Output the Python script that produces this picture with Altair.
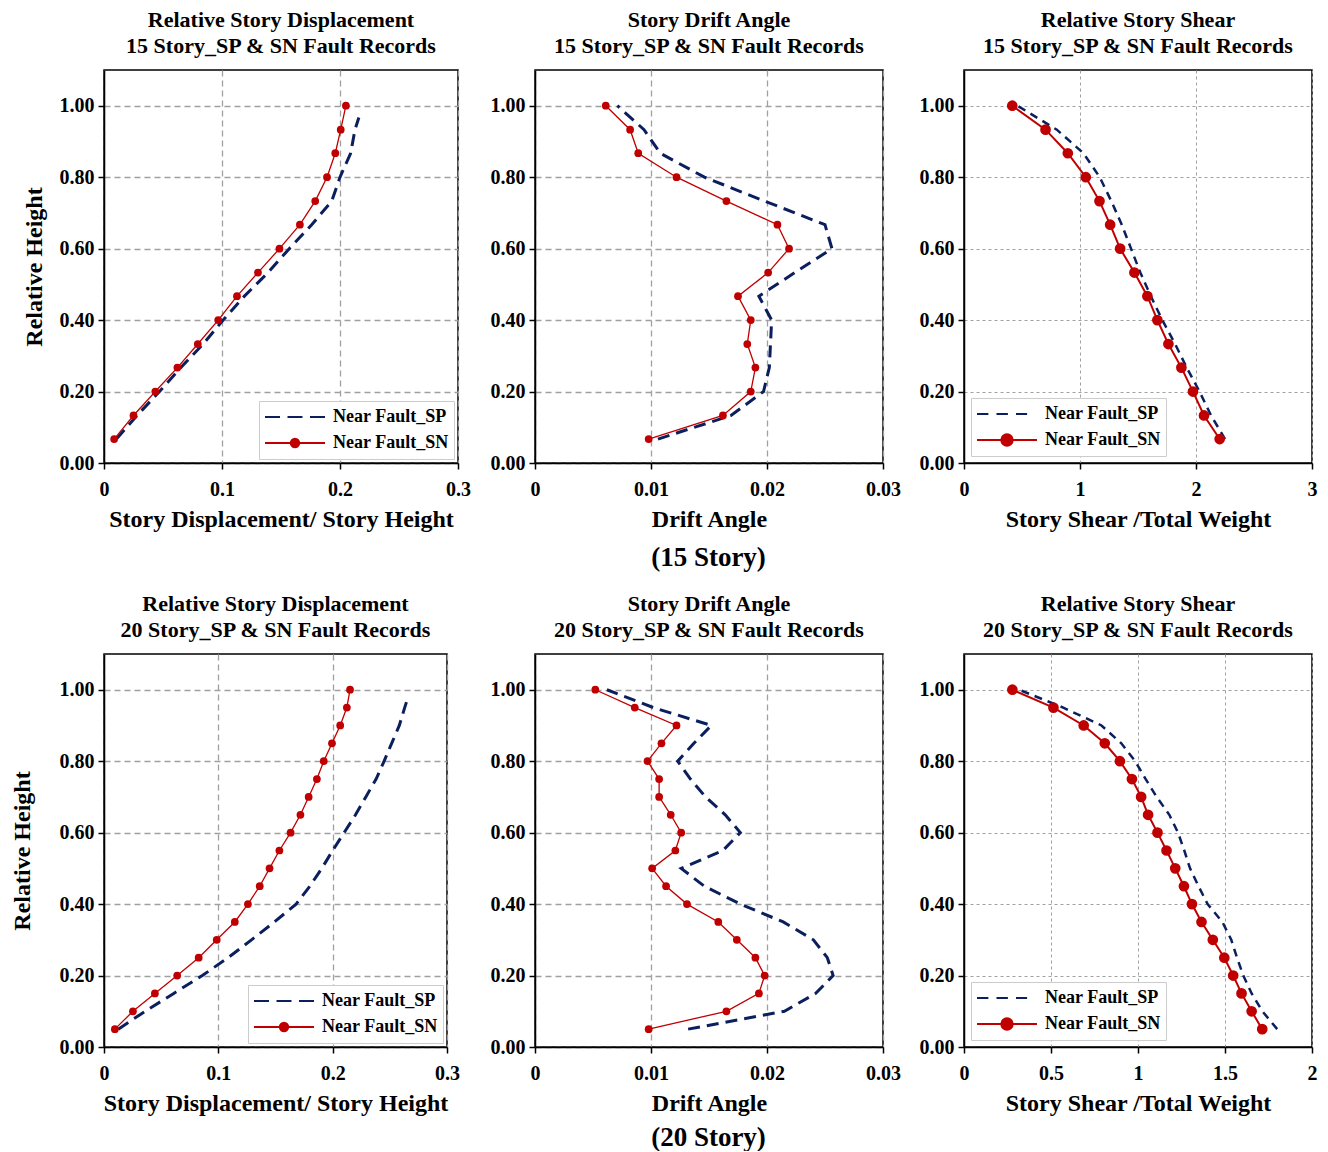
import altair as alt
import pandas as pd

FONT = "Liberation Serif"
NAVY = "#0b1f5e"
RED = "#c00000"
SP = "Near Fault_SP"
SN = "Near Fault_SN"

# ---------------- data ----------------
h15 = [0.067, 0.133, 0.2, 0.267, 0.333, 0.4, 0.467, 0.533, 0.6, 0.667, 0.733, 0.8, 0.867, 0.933, 1.0]
h15_sp_disp = [0.067, 0.133, 0.2, 0.267, 0.333, 0.4, 0.467, 0.533, 0.6, 0.667, 0.733, 0.8, 0.867, 0.933, 0.967]
h20 = [0.05, 0.1, 0.15, 0.2, 0.25, 0.3, 0.35, 0.4, 0.45, 0.5, 0.55, 0.6, 0.65, 0.7, 0.75, 0.8, 0.85, 0.9, 0.95, 1.0]
h20_sp_disp = [0.05, 0.1, 0.15, 0.2, 0.25, 0.3, 0.35, 0.4, 0.45, 0.5, 0.55, 0.6, 0.65, 0.7, 0.75, 0.8, 0.85, 0.9, 0.95, 0.97]

disp15_sn = [0.0086, 0.025, 0.0435, 0.0622, 0.0795, 0.0968, 0.1127, 0.1305, 0.1487, 0.166, 0.179, 0.189, 0.196, 0.2006, 0.205]
disp15_sp = [0.0105, 0.028, 0.047, 0.065, 0.084, 0.101, 0.119, 0.139, 0.157, 0.176, 0.193, 0.200, 0.209, 0.2127, 0.216]
drift15_sn = [0.0098, 0.0162, 0.0186, 0.0190, 0.0183, 0.0186, 0.0175, 0.0201, 0.0219, 0.0209, 0.0165, 0.0122, 0.0089, 0.0082, 0.0061]
drift15_sp = [0.0106, 0.0169, 0.0197, 0.0202, 0.0203, 0.0204, 0.0193, 0.0224, 0.0256, 0.0250, 0.0198, 0.0146, 0.0108, 0.0094, 0.0071]
shear15_sn = [2.204, 2.069, 1.974, 1.874, 1.762, 1.667, 1.581, 1.469, 1.346, 1.26, 1.168, 1.05, 0.895, 0.703, 0.416]
shear15_sp = [2.25, 2.13, 2.03, 1.92, 1.82, 1.71, 1.61, 1.52, 1.44, 1.36, 1.27, 1.17, 1.03, 0.80, 0.46]

disp20_sn = [0.0095, 0.0253, 0.0445, 0.064, 0.0828, 0.0986, 0.1144, 0.1259, 0.1362, 0.1448,
             0.1534, 0.1632, 0.1718, 0.179, 0.1862, 0.1922, 0.1994, 0.2066, 0.2124, 0.2152]
disp20_sp = [0.0125, 0.036, 0.061, 0.086, 0.1085, 0.129, 0.149, 0.168, 0.180, 0.1905,
             0.200, 0.210, 0.220, 0.229, 0.238, 0.245, 0.2516, 0.2583, 0.263, 0.265]
drift20_sn = [0.0098, 0.0165, 0.0193, 0.0198, 0.0190, 0.0174, 0.0158, 0.0131, 0.0113, 0.0101,
              0.0121, 0.0126, 0.0117, 0.0107, 0.0107, 0.0097, 0.0109, 0.0122, 0.0086, 0.0052]
drift20_sp = [0.0132, 0.0215, 0.0242, 0.0257, 0.0252, 0.0240, 0.0214, 0.0177, 0.0146, 0.0126,
              0.0162, 0.0177, 0.0164, 0.0147, 0.0134, 0.0123, 0.0137, 0.0152, 0.0102, 0.0062]
shear20_sn = [1.714, 1.653, 1.595, 1.547, 1.496, 1.43, 1.365, 1.31, 1.264, 1.214,
              1.164, 1.112, 1.058, 1.018, 0.965, 0.896, 0.809, 0.688, 0.514, 0.278]
shear20_sp = [1.80, 1.715, 1.653, 1.605, 1.569, 1.536, 1.485, 1.40, 1.348, 1.299,
              1.266, 1.23, 1.18, 1.107, 1.044, 0.984, 0.904, 0.79, 0.57, 0.316]

y_ticks = [0.0, 0.2, 0.4, 0.6, 0.8, 1.0]
x_ticks_disp = [0, 0.1, 0.2, 0.3]
x_ticks_drift = [0, 0.01, 0.02, 0.03]
x_ticks_shear15 = [0, 1, 2, 3]
x_ticks_shear20 = [0, 0.5, 1, 1.5, 2]

H = 393

STYLE_A = dict(sp_w=3.0, sp_dash=[12, 7], sn_w=1.3, pt=60, grid_dash=[6, 4], grid_w=1.3,
               leg_sp="M-1,0H-0.5M-0.25,0H0.25M0.5,0H1",
               leg_sn="M-1,0H1M0.14,0A0.14,0.14 0 1,1 -0.14,0A0.14,0.14 0 1,1 0.14,0Z")
STYLE_B = dict(sp_w=2.5, sp_dash=[8, 6], sn_w=2.0, pt=115, grid_dash=[3, 3], grid_w=1.0,
               leg_sp="M-1,0H-0.62M-0.35,0H0.03M0.3,0H0.67",
               leg_sn="M-1,0H1M0.19,0A0.19,0.19 0 1,1 -0.19,0A0.19,0.19 0 1,1 0.19,0Z")


def panel(x_sn, h_sn, x_sp, h_sp, xdom, xvals, xtitle, title, ytitle, legend_orient, st,
          width=348, ypad=8, leg_offset=5):
    df_sn = pd.DataFrame({"x": x_sn, "h": h_sn, "i": list(range(len(x_sn))), "series": SN})
    df_sp = pd.DataFrame({"x": x_sp, "h": h_sp, "i": list(range(len(x_sp))), "series": SP})
    xenc = alt.X("x:Q", scale=alt.Scale(domain=xdom, nice=False, zero=False),
                 axis=alt.Axis(values=xvals, format="~g", title=xtitle, grid=True,
                               gridDash=st["grid_dash"], gridColor="#a0a0a0", gridWidth=st["grid_w"],
                               labelFlush=False, labelOverlap=False, tickSize=6, labelPadding=10,
                               titlePadding=8))
    yax = dict(values=y_ticks, format=".2f", grid=True, gridDash=st["grid_dash"],
               gridColor="#a0a0a0", gridWidth=st["grid_w"], tickSize=6, labelPadding=4,
               labelFlush=False, labelOverlap=False)
    if ytitle:
        yax["title"] = ytitle
        yax["titlePadding"] = ypad
    else:
        yax["title"] = None
    yenc = alt.Y("h:Q", scale=alt.Scale(domain=[0, 1.1], nice=False, zero=False), axis=alt.Axis(**yax))

    sp_line = alt.Chart(df_sp).mark_line(color=NAVY, strokeWidth=st["sp_w"], strokeDash=st["sp_dash"]).encode(
        x=xenc, y=yenc, order="i:Q")
    sn_line = alt.Chart(df_sn).mark_line(color=RED, strokeWidth=st["sn_w"]).encode(
        x=xenc, y=yenc, order="i:Q")
    sn_pts = alt.Chart(df_sn).mark_point(filled=True, color=RED, size=st["pt"], opacity=1).encode(
        x=xenc, y=yenc)
    layers = [sp_line, sn_line, sn_pts]

    if legend_orient:
        leg = alt.Legend(title=None, orient=legend_orient, offset=leg_offset, fillColor="white",
                         strokeColor="#cccccc", padding=5, symbolSize=3600, clipHeight=22,
                         labelFont=FONT, labelFontSize=18, labelFontWeight="bold", labelColor="black",
                         labelOffset=7, rowPadding=4, symbolStrokeWidth=2, symbolOpacity=1)
        dom = [SP, SN]
        leg_layer = alt.Chart(df_sn).transform_filter("false").mark_point(
            opacity=1, size=3600, strokeWidth=2).encode(
            x=xenc, y=yenc,
            shape=alt.Shape("series:N", scale=alt.Scale(domain=dom, range=[st["leg_sp"], st["leg_sn"]]), legend=leg),
            fill=alt.Fill("series:N", scale=alt.Scale(domain=dom, range=[NAVY, RED]), legend=leg),
            stroke=alt.Stroke("series:N", scale=alt.Scale(domain=dom, range=[NAVY, RED]), legend=leg),
        )
        layers.append(leg_layer)

    return alt.layer(*layers).properties(
        width=width, height=H,
        title=alt.TitleParams(text=title, anchor="middle", frame="group", fontSize=22,
                              font=FONT, fontWeight="bold", color="black", lineHeight=26, offset=12),
    )


T_DISP = "Relative Story Displacement"
T_DRIFT = "Story Drift Angle"
T_SHEAR = "Relative Story Shear"

p1 = panel(disp15_sn, h15, disp15_sp, h15_sp_disp, [0, 0.3], x_ticks_disp,
           "Story Displacement/ Story Height", [T_DISP, "15 Story_SP & SN Fault Records"],
           "Relative Height", "bottom-right", STYLE_A, width=354, ypad=13, leg_offset=4)
p2 = panel(drift15_sn, h15, drift15_sp, h15, [0, 0.03], x_ticks_drift,
           "Drift Angle", [T_DRIFT, "15 Story_SP & SN Fault Records"], None, None, STYLE_A)
p3 = panel(shear15_sn, h15, shear15_sp, h15, [0, 3], x_ticks_shear15,
           "Story Shear /Total Weight", [T_SHEAR, "15 Story_SP & SN Fault Records"], None, "bottom-left",
           STYLE_B, leg_offset=7)

p4 = panel(disp20_sn, h20, disp20_sp, h20_sp_disp, [0, 0.3], x_ticks_disp,
           "Story Displacement/ Story Height", [T_DISP, "20 Story_SP & SN Fault Records"],
           "Relative Height", "bottom-right", STYLE_A, width=343, ypad=25, leg_offset=4)
p5 = panel(drift20_sn, h20, drift20_sp, h20, [0, 0.03], x_ticks_drift,
           "Drift Angle", [T_DRIFT, "20 Story_SP & SN Fault Records"], None, None, STYLE_A)
p6 = panel(shear20_sn, h20, shear20_sp, h20, [0, 2], x_ticks_shear20,
           "Story Shear /Total Weight", [T_SHEAR, "20 Story_SP & SN Fault Records"], None, "bottom-left",
           STYLE_B, leg_offset=7)

indep = dict(x="independent", y="independent", shape="independent", fill="independent", stroke="independent")
leg_indep = dict(shape="independent", fill="independent", stroke="independent")


def row(a, b, c, s1, s2, caption, dx, off):
    inner = alt.hconcat(b, c, spacing=s2).resolve_scale(**indep).resolve_legend(**leg_indep)
    return alt.hconcat(a, inner, spacing=s1,
                       title=alt.TitleParams(text=caption, orient="bottom", anchor="middle", fontSize=27,
                                             font=FONT, fontWeight="bold", color="black", dx=dx, offset=off)
                       ).resolve_scale(**indep).resolve_legend(**leg_indep)


row1 = row(p1, p2, p3, 17, 16, "(15 Story)", 39, 13)
row2 = row(p4, p5, p6, 28, 16, "(20 Story)", 45, 9)

chart = alt.vconcat(row1, row2, spacing=21).resolve_scale(**indep).resolve_legend(**leg_indep).properties(
    padding={"left": 9, "top": 8, "right": 5, "bottom": 0}
).configure_view(
    stroke="black", strokeWidth=1.5
).configure_axis(
    labelFont=FONT, titleFont=FONT, labelFontWeight="bold", titleFontWeight="bold",
    labelFontSize=20, titleFontSize=24, labelColor="black", titleColor="black",
    domainColor="black", domainWidth=1.5, tickColor="black", tickWidth=1.5
).configure_title(font=FONT, fontWeight="bold", color="black")

chart.save("out.html", embed_options={"renderer": "svg", "actions": False})
